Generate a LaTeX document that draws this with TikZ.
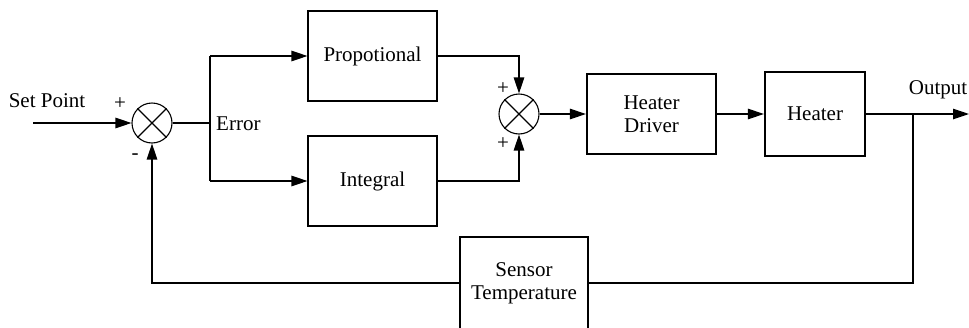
\documentclass[tikz,border=0pt]{standalone}
\usepackage{fontspec}
\setmainfont{Liberation Serif}
\usetikzlibrary{arrows.meta}
\begin{document}
\begin{tikzpicture}[x=1pt,y=-1pt,
  every node/.style={font=\fontsize{21}{23}\selectfont},
  blk/.style={draw,line width=1.1pt,minimum width=129pt,minimum height=90pt,inner sep=0pt,align=center},
  tblk/.style={draw,line width=2.2pt,inner sep=0pt,align=center},
  sumc/.style={draw,circle,line width=1.1pt,minimum size=40pt,inner sep=0pt},
  ln/.style={line width=1.2pt},
  arr/.style={ln,-{Triangle[length=16pt,width=10.5pt]}},
  lbl/.style={inner sep=0pt}]
\useasboundingbox (0,0) rectangle (969,327);
\clip (0,0) rectangle (969,327);
% nodes
\node[sumc] (s1) at (152,123) {};
\node[sumc] (s2) at (519,114) {};
\node[blk] (prop) at (372.5,56) {Propotional};
\node[blk] (int) at (372.5,181) {Integral};
\node[tblk,minimum width=129pt,minimum height=80pt] (drv) at (651.5,114) {Heater\\Driver};
\node[tblk,minimum width=100pt,minimum height=84pt] (htr) at (815,114) {Heater};
\node[blk,minimum width=128pt,minimum height=92pt] (sen) at (524,283) {Sensor\\Temperature};
% crosses
\foreach \s in {s1,s2}{
  \draw[ln] (\s.north west) -- (\s.south east);
  \draw[ln] (\s.north east) -- (\s.south west);
}
% coordinates
\coordinate (in) at (33,123);
\coordinate (jx) at (210,123);
\coordinate (jt) at (210,56);
\coordinate (jb) at (210,181);
\coordinate (out) at (969,114);
\coordinate (tap) at (913,114);
% connectors
\draw[arr] (in) -- (s1.west);
\draw[ln] (s1.east) -- (jx);
\draw[ln] (jt) -- (jb);
\draw[arr] (jt) -- (prop.west);
\draw[arr] (jb) -- (int.west);
\draw[arr] (prop.east) -| (s2.north);
\draw[arr] (int.east) -| (s2.south);
\draw[arr] (s2.east) -- (drv.west);
\draw[arr] (drv.east) -- (htr.west);
\draw[arr] (htr.east) -- (out);
\draw[ln] (tap) |- (sen.east);
\draw[arr] (sen.west) -| (s1.south);
% labels
\node[lbl] (lsp) at (47,101) {Set Point};
\node[lbl] (lp1) at (120,104) {+};
\node[lbl] (lm1) at (135,157) {-};
\node[lbl,anchor=west] (lerr) at (216,124) {Error};
\node[lbl] (lp2) at (503,89) {+};
\node[lbl] (lp3) at (503,144) {+};
\node[lbl] (lout) at (938,90) {Output};
\end{tikzpicture}
\end{document}
